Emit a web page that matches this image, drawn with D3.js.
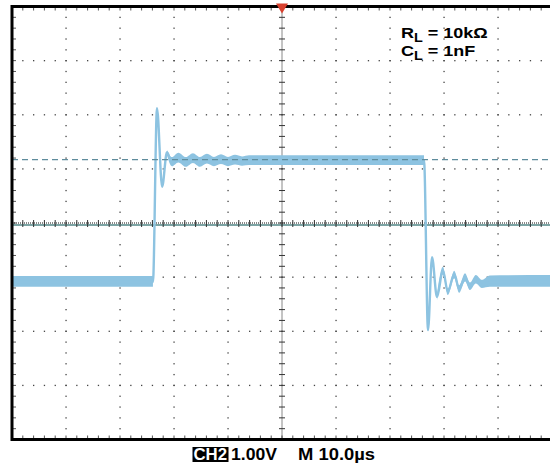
<!DOCTYPE html>
<html>
<head>
<meta charset="utf-8">
<script src="https://cdn.jsdelivr.net/npm/d3@7"></script>
<style>
body { margin: 0; background: #fff; }
text { font-family: "Liberation Sans", Arial, sans-serif; font-weight: bold; }
</style>
</head>
<body>
<svg id="vis" width="550" height="466"></svg>
<script>
// time in µs (10 µs/div), level in V (1 V/div)
const traceT = [-50, -23.9, -23.15, -22.2, -21.3, -20.4, -19.3, -17.8, 26.3, 27.04, 27.78, 28.7, 29.8, 30.7, 31.9, 32.8, 33.9, 34.8, 35.9, 37.0, 38.5, 50]
const traceV = [-1.09, -1.09, 2.12, 0.67, 1.31, 1.11, 1.20, 1.15, 1.16, -1.98, -0.63, -1.37, -0.87, -1.27, -0.94, -1.22, -1.00, -1.18, -1.03, -1.15, -1.09, -1.09]

// noise band of the plateaus
const lowBandT = [-50, -23.9]
const lowBandHi = [-0.98, -0.98]
const lowBandLo = [-1.18, -1.18]

const highBandT = [-21.3, -20.4, -19.2, -17.8, -16.5, -15.2, -13.9, -12.6, -11.3, -10, -8.7, -7.4, -6.1, 26.3]
const highBandHi = [1.35, 1.22, 1.30, 1.22, 1.29, 1.22, 1.28, 1.22, 1.27, 1.22, 1.26, 1.23, 1.25, 1.25]
const highBandLo = [1.25, 1.05, 1.12, 1.04, 1.11, 1.04, 1.10, 1.05, 1.09, 1.05, 1.08, 1.06, 1.07, 1.07]

const tailT = [28.7, 29.8, 30.7, 31.9, 32.8, 33.9, 34.8, 35.9, 37.0, 38.5, 50]
const tailHi = [-1.31, -0.81, -1.21, -0.88, -1.15, -0.93, -1.10, -0.96, -1.05, -0.97, -0.96]
const tailLo = [-1.43, -0.95, -1.33, -1.02, -1.29, -1.08, -1.24, -1.12, -1.20, -1.18, -1.18]

const cursorV = 1.17

const svg = d3.select('#vis')
const x = d3.scaleLinear().domain([-50, 50]).range([12, 552])
const y = d3.scaleLinear().domain([-4, 4]).range([439.5, 6.5])

svg.append('rect').attr('width', 550).attr('height', 466).attr('fill', '#fff')

const grid = svg.append('g')
const minorT = d3.range(-50, 50.01, 2)
const minorV = d3.range(-4, 4.01, 0.2)

// dotted major grid
for (const t of x.ticks(10)) {
  if (t === 0 || t === -50 || t === 50) continue
  grid.selectAll(null).data(minorV).enter().append('rect')
    .attr('x', x(t) - 0.6).attr('y', d => y(d) - 0.6)
    .attr('width', 1.3).attr('height', 1.3).attr('fill', '#444')
}
for (const v of y.ticks(8)) {
  if (v === 0 || v === -4 || v === 4) continue
  grid.selectAll(null).data(minorT).enter().append('rect')
    .attr('x', d => x(d) - 0.6).attr('y', y(v) - 0.6)
    .attr('width', 1.3).attr('height', 1.3).attr('fill', '#444')
}

// border ticks
grid.selectAll(null).data(minorT).enter().append('line')
  .attr('x1', d => x(d)).attr('x2', d => x(d))
  .attr('y1', y(4)).attr('y2', y(4) + 4)
  .attr('stroke', '#555').attr('stroke-width', 1)
grid.selectAll(null).data(minorT).enter().append('line')
  .attr('x1', d => x(d)).attr('x2', d => x(d))
  .attr('y1', y(-4)).attr('y2', y(-4) - 4)
  .attr('stroke', '#555').attr('stroke-width', 1)
grid.selectAll(null).data(minorV).enter().append('line')
  .attr('x1', x(-50)).attr('x2', x(-50) + 4)
  .attr('y1', d => y(d)).attr('y2', d => y(d))
  .attr('stroke', '#555').attr('stroke-width', 1)

// center cross
grid.append('line')
  .attr('x1', x(-50)).attr('x2', x(50)).attr('y1', y(0) + 2).attr('y2', y(0) + 2)
  .attr('stroke', '#4f8585').attr('stroke-width', 1.6)
grid.append('line')
  .attr('x1', x(-50)).attr('x2', x(50)).attr('y1', y(0)).attr('y2', y(0))
  .attr('stroke', '#111').attr('stroke-width', 1).attr('stroke-dasharray', '1,1')
grid.append('line')
  .attr('x1', x(0)).attr('x2', x(0)).attr('y1', y(4)).attr('y2', y(-4))
  .attr('stroke', '#111').attr('stroke-width', 1).attr('stroke-dasharray', '1,1')
grid.selectAll(null).data(minorT).enter().append('line')
  .attr('x1', d => x(d)).attr('x2', d => x(d))
  .attr('y1', y(0) - 3).attr('y2', y(0) + 4)
  .attr('stroke', '#333').attr('stroke-width', 1)
grid.selectAll(null).data(minorV).enter().append('line')
  .attr('x1', x(0) - 3).attr('x2', x(0) + 3)
  .attr('y1', d => y(d)).attr('y2', d => y(d))
  .attr('stroke', '#333').attr('stroke-width', 1)

// trace
const blue = '#8dc3e1'
const area = d3.area().x(d => x(d.t)).y0(d => y(d.lo)).y1(d => y(d.hi)).curve(d3.curveMonotoneX)
const bands = [
  lowBandT.map((t, i) => ({ t, hi: lowBandHi[i], lo: lowBandLo[i] })),
  highBandT.map((t, i) => ({ t, hi: highBandHi[i], lo: highBandLo[i] })),
  tailT.map((t, i) => ({ t, hi: tailHi[i], lo: tailLo[i] }))
]
svg.append('g').selectAll('path').data(bands).enter().append('path')
  .attr('d', area).attr('fill', blue)

const line = d3.line().x(d => x(d.t)).y(d => y(d.v)).curve(d3.curveMonotoneX)
svg.append('path')
  .datum(traceT.map((t, i) => ({ t, v: traceV[i] })))
  .attr('d', line).attr('fill', 'none')
  .attr('stroke', blue).attr('stroke-width', 2.4)

// cursor level
svg.append('line')
  .attr('x1', x(-50)).attr('x2', x(50)).attr('y1', y(cursorV)).attr('y2', y(cursorV))
  .attr('stroke', '#5f8c9c').attr('stroke-width', 1.2).attr('stroke-dasharray', '6,4')

// frame
svg.append('rect')
  .attr('x', x(-50)).attr('y', y(4)).attr('width', x(50) - x(-50)).attr('height', y(-4) - y(4))
  .attr('fill', 'none').attr('stroke', '#000').attr('stroke-width', 3)

// trigger marker
svg.append('path')
  .attr('d', `M${x(0) - 6},${y(4) - 3}L${x(0) + 6},${y(4) - 3}L${x(0)},${y(4) + 7}Z`)
  .attr('fill', '#d8412f')

// labels
const rl = svg.append('text').attr('transform', 'translate(401,38) scale(1.2,1)').attr('font-size', 15)
rl.append('tspan').text('R')
rl.append('tspan').attr('dy', 4).attr('font-size', 12).text('L')
rl.append('tspan').attr('dy', -4).text(' = 10kΩ')
const cl = svg.append('text').attr('transform', 'translate(401,56) scale(1.2,1)').attr('font-size', 15)
cl.append('tspan').text('C')
cl.append('tspan').attr('dy', 4).attr('font-size', 12).text('L')
cl.append('tspan').attr('dy', -4).text(' = 1nF')

svg.append('rect').attr('x', 192.5).attr('y', 447).attr('width', 36).attr('height', 15).attr('fill', '#000')
svg.append('text').attr('transform', 'translate(193.5,460) scale(1.05,1)').attr('font-size', 16).attr('fill', '#fff').text('CH2')
svg.append('text').attr('transform', 'translate(231,460) scale(1.1,1)').attr('font-size', 16).text('1.00V')
svg.append('text').attr('transform', 'translate(298,460) scale(1.15,1)').attr('font-size', 16).text('M 10.0µs')
</script>
</body>
</html>
